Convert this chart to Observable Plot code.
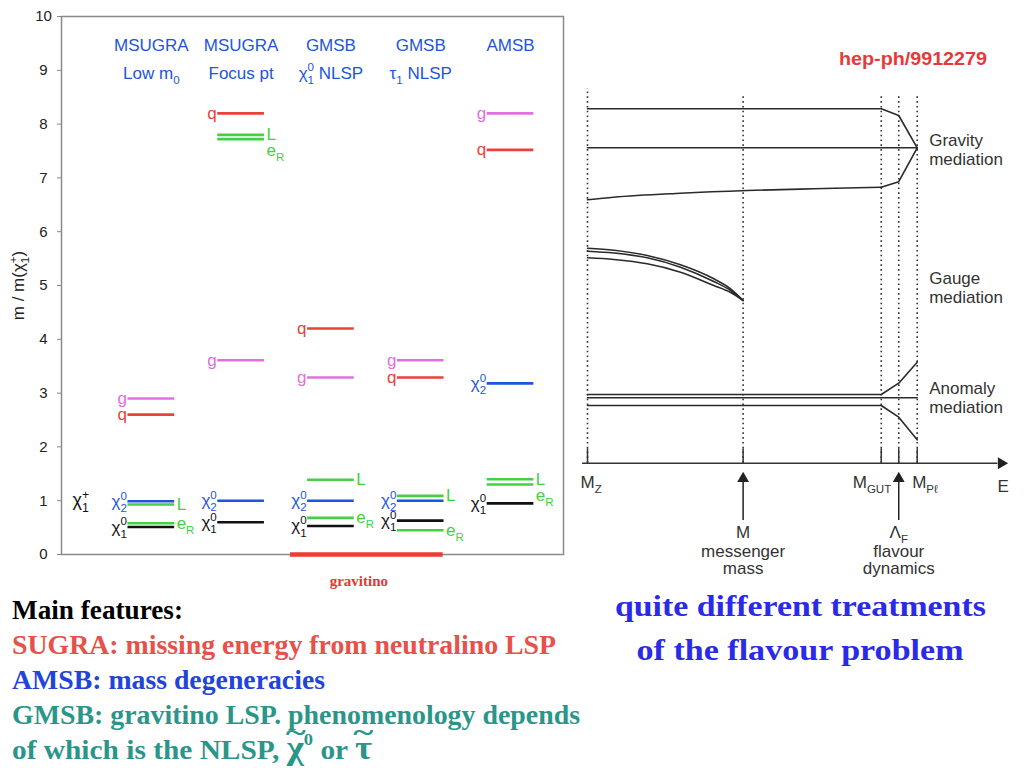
<!DOCTYPE html>
<html><head><meta charset="utf-8">
<script src="https://cdn.jsdelivr.net/npm/d3@7"></script>
<script src="https://cdn.jsdelivr.net/npm/@observablehq/plot@0.6"></script>
<style>
body{margin:0;background:#fff;}
#slide{position:relative;width:1024px;height:768px;overflow:hidden;background:#fff;font-family:"Liberation Sans",Arial,Helvetica,sans-serif;}
.serif{font-family:"Liberation Serif","Times New Roman",serif;font-weight:bold;white-space:nowrap;}
.fit{display:inline-block;white-space:nowrap;}
.row{height:35px;line-height:35px;}
.tl{position:relative;display:inline-block;font-size:34px;line-height:20px;}
.tl::before{content:"~";position:absolute;left:0;right:0;text-align:center;top:-0.58em;font-size:0.8em;transform:scaleX(1.3);}
.sp{position:relative;top:-14px;font-size:17px;line-height:0;}
</style></head><body>
<div id="slide">
  <div id="left" style="position:absolute;left:0;top:0"></div>
  <div id="right" style="position:absolute;left:570px;top:0"></div>
  <div style="position:absolute;left:839px;top:48px;color:#e8393a;font-weight:bold;font-size:19px;line-height:22px"><span class="fit" data-w="148">hep-ph/9912279</span></div>
  <div class="serif" style="position:absolute;left:560px;width:480px;top:584px;text-align:center;color:#2a2ae8;font-size:30px;line-height:44px">
    <div><span class="fit" data-w="371" data-origin="center">quite different treatments</span></div>
    <div><span class="fit" data-w="327" data-origin="center">of the flavour problem</span></div>
  </div>
  <div class="serif" style="position:absolute;left:12px;top:593px;font-size:27px">
    <div class="row" style="color:#000"><span class="fit" data-w="171">Main features:</span></div>
    <div class="row" style="color:#e8504a"><span class="fit" data-w="544">SUGRA: missing energy from neutralino LSP</span></div>
    <div class="row" style="color:#2244d8"><span class="fit" data-w="313">AMSB: mass degeneracies</span></div>
    <div class="row" style="color:#2a968a"><span class="fit" data-w="568">GMSB: gravitino LSP. phenomenology depends</span></div>
    <div class="row" style="color:#2a968a"><span class="fit" data-w="360">of which is the NLSP, <span class="tl">χ</span><span class="sp">0</span> or <span class="tl">τ</span></span></div>
  </div>
</div>
<script>
// ---------------- Left panel data: sparticle mass ratios m / m(chi1+) ----------------
const modelTitles = ["MSUGRA", "MSUGRA", "GMSB", "GMSB", "AMSB"];
const modelSubtitles = ["Low m_{0}", "Focus pt", "χ_{1}^{0} NLSP", "τ_{1} NLSP", ""];
const particleKeys = ["q", "g", "L", "eR", "chi2", "chi1"];
const particleLabels = ["q", "g", "L", "e_{R}", "χ_{2}^{0}", "χ_{1}^{0}"];
const particleColors = ["#e8423a", "#e070e0", "#44cf44", "#44cf44", "#1d55dc", "#111111"];
const particleSides = ["left", "left", "right", "right", "left", "left"];
const massQ    = [2.60, 8.20, 4.20, 3.29, 7.52];
const massG    = [2.90, 3.61, 3.29, 3.61, 8.20];
const massL    = [0.93, 7.80, 1.39, 1.09, 1.40];
const massER   = [0.58, 7.72, 0.68, 0.45, 1.30];
const massChi2 = [0.99, 1.00, 1.00, 1.00, 3.18];
const massChi1 = [0.51, 0.60, 0.53, 0.63, 0.95];
const charginoLabel = "χ_{1}^{+}";
const gravitinoSpan = [2.55, 4.25];   // spans the two GMSB columns at m = 0
const yTicks = [0, 1, 2, 3, 4, 5, 6, 7, 8, 9, 10];

// ---------------- Right panel data: schematic running of masses vs energy ----------------
const scaleNames   = ["MZ", "M", "MGUT", "ΛF", "MPl"];
const scaleTexts   = ["M_{Z}", "M", "M_{GUT}", "Λ_{F}", "M_{Pℓ}"];
const scalePos     = [0, 4.72, 8.91, 9.44, 10];
const scaleDotTop  = [37.47, 36.97, 36.97, 36.97, 36.97];
const scaleKinds   = ["axis", "arrow", "axis", "arrow", "axis"];
const scaleCaption = [[], ["messenger", "mass"], [], ["flavour", "dynamics"], []];
const mediationNames  = ["Gravity\nmediation", "Gauge\nmediation", "Anomaly\nmediation"];
const mediationLevels = [31.4, 17.6, 6.6];
const curveNames  = ["gravTop", "gravMid", "gravLow", "gravLowKink", "gauge1", "gauge2", "gauge3", "anomTop", "anomMid", "anomBot"];
const curveSmooth = [false, false, true, false, true, true, true, false, false, false];
const curveX = [
  [0, 8.91, 9.44, 10],
  [0, 10],
  [0, 0.79, 2.82, 4.84, 6.85, 8.91],
  [8.91, 9.44, 10],
  [0, 0.80, 1.81, 2.82, 3.83, 4.34, 4.72],
  [0, 0.80, 1.81, 2.82, 3.83, 4.34, 4.72],
  [0, 0.80, 1.81, 2.82, 3.83, 4.34, 4.72],
  [0, 8.91, 9.44, 10],
  [0, 10],
  [0, 8.91, 9.44, 10]
];
const curveY = [
  [35.44, 35.44, 34.77, 31.54],
  [31.54, 31.54],
  [26.34, 26.60, 27.00, 27.27, 27.44, 27.60],
  [27.60, 28.15, 31.54],
  [21.50, 21.30, 20.77, 19.84, 18.44, 17.44, 16.27],
  [21.20, 21.02, 20.54, 19.60, 18.17, 17.27, 16.27],
  [20.54, 20.37, 19.94, 19.10, 17.77, 17.07, 16.27],
  [6.87, 6.87, 8.00, 10.10],
  [6.54, 6.54],
  [5.77, 5.77, 4.60, 2.34]
];
const energyAxisExtent = [-0.15, 12.55];

// ---------------- build tables ----------------
const massTable = [massQ, massG, massL, massER, massChi2, massChi1];
const spectrum = [];
modelTitles.forEach((m, i) => {
  particleKeys.forEach((p, j) => {
    spectrum.push({col: i + 1, key: p, mass: massTable[j][i], label: particleLabels[j],
      color: particleColors[j], side: particleSides[j],
      crowded: p === "eR" && Math.abs(massL[i] - massER[i]) < 0.15});
  });
});
const HALF = 0.26;
const header = modelTitles.map((t, i) => ({col: i + 1, t, s: modelSubtitles[i]}));

const energyScales = scaleNames.map((n, i) => ({name: n, text: scaleTexts[i], pos: scalePos[i], top: scaleDotTop[i], kind: scaleKinds[i], caption: scaleCaption[i]}));
const curvePts = [];
curveNames.forEach((n, i) => curveX[i].forEach((x, k) => curvePts.push({name: n, smooth: curveSmooth[i], x, y: curveY[i][k]})));
const mediations = mediationNames.map((t, i) => ({t, y: mediationLevels[i]}));

// ---------------- rich text (sub/superscripts) ----------------
const SVGNS = "http://www.w3.org/2000/svg";
function richify(root) {
  root.querySelectorAll("text").forEach(t => {
    const multi = !!t.querySelector("tspan");
    const nodes = multi ? [...t.querySelectorAll("tspan")] : [t];
    nodes.forEach(node => {
      const s = node.textContent;
      if (!/[_^]\{/.test(s)) return;
      const fs = parseFloat(getComputedStyle(node).fontSize) || 12;
      const parts = []; const re = /([_^])\{([^}]*)\}/g; let last = 0, m;
      while ((m = re.exec(s))) {
        if (m.index > last) parts.push({t: "n", s: s.slice(last, m.index)});
        parts.push({t: m[1] === "_" ? "sub" : "sup", s: m[2]});
        last = re.lastIndex;
      }
      if (last < s.length) parts.push({t: "n", s: s.slice(last)});
      node.textContent = "";
      let cur = 0, prev = null, prevW = 0;
      parts.forEach(p => {
        const ts = document.createElementNS(SVGNS, "tspan");
        const target = p.t === "sub" ? 0.3 * fs : p.t === "sup" ? -0.42 * fs : 0;
        if (target - cur) ts.setAttribute("dy", target - cur);
        cur = target;
        if (p.t !== "n") ts.setAttribute("font-size", 0.68 * fs);
        if (p.t === "sup" && prev && prev.t === "sub") ts.setAttribute("dx", -prevW);
        ts.textContent = p.s;
        node.appendChild(ts);
        if (p.t === "sub") prevW = ts.getComputedTextLength();
        prev = p;
      });
    });
  });
}

// ---------------- left plot ----------------
const font = "Liberation Sans, Arial, Helvetica, sans-serif";
const left = Plot.plot({
  width: 575, height: 600,
  marginLeft: 61, marginRight: 12, marginTop: 16, marginBottom: 46,
  x: {domain: [0, 5.59], axis: null},
  y: {domain: [0, 10], axis: null},
  style: {fontFamily: font, fontSize: "15px", color: "#222", background: "transparent", overflow: "visible"},
  marks: [
    Plot.frame({stroke: "#8a8a8a", strokeWidth: 1.5}),
    Plot.axisY({ticks: yTicks, label: null, tickSize: 4, tickPadding: 14, textAnchor: "middle", stroke: "#8a8a8a", fill: "#222", fontSize: 15, tickFormat: d => String(d)}),
    Plot.text(["m / m(χ_{1}^{+})"], {text: d => d, frameAnchor: "left", textAnchor: "middle", dx: -43, rotate: -90, fontSize: 17, fill: "#222"}),
    Plot.text(header, {x: "col", text: "t", frameAnchor: "top", dy: 22, fill: "#1d55dc", fontSize: 17}),
    Plot.text(header.filter(d => d.s), {x: "col", text: "s", frameAnchor: "top", dy: 50, fill: "#1d55dc", fontSize: 17}),
    Plot.ruleY(spectrum, {y: "mass", x1: d => d.col - HALF, x2: d => d.col + HALF, stroke: "color", strokeWidth: 2.6}),
    Plot.text(spectrum.filter(d => d.side === "left"), {x: d => d.col - HALF, y: "mass", text: "label", fill: "color", textAnchor: "end", dx: -1, fontSize: 17}),
    Plot.text(spectrum.filter(d => d.side === "right" && !d.crowded), {x: d => d.col + HALF, y: "mass", text: "label", fill: "color", textAnchor: "start", dx: 2, fontSize: 17}),
    Plot.text(spectrum.filter(d => d.side === "right" && d.crowded), {x: d => d.col + HALF, y: "mass", text: "label", fill: "color", textAnchor: "start", dx: 2, dy: 11, fontSize: 17}),
    Plot.text([charginoLabel], {text: d => d, x: 0, y: 1, dx: 11, textAnchor: "start", fill: "#111", fontSize: 18}),
    Plot.ruleY([0], {x1: gravitinoSpan[0], x2: gravitinoSpan[1], stroke: "#ee3b33", strokeWidth: 4.5}),
    Plot.text(["gravitino"], {text: d => d, x: (gravitinoSpan[0] + gravitinoSpan[1]) / 2, y: 0, dx: -8, dy: 27, fill: "#e03a30", fontSize: 15, fontWeight: "bold", fontFamily: "Liberation Serif, Times New Roman, serif"})
  ]
});
document.getElementById("left").append(left);
richify(left);

// ---------------- right plot ----------------
const ink = "#2a2a2a";
const arrows = energyScales.filter(d => d.kind === "arrow");
const right = Plot.plot({
  width: 454, height: 610,
  marginLeft: 17, marginRight: 107.3, marginTop: 62.7, marginBottom: 147.3,
  x: {domain: [0, 10], axis: null},
  y: {domain: [0, 40], axis: null},
  style: {fontFamily: font, fontSize: "17px", color: ink, background: "transparent", overflow: "visible"},
  marks: [
    Plot.ruleX(energyScales, {x: "pos", y1: 0, y2: "top", stroke: "#333", strokeWidth: 1.6, strokeDasharray: "1.6,3.2"}),
    Plot.ruleX(energyScales, {x: "pos", y1: 0, y2: 1.45, stroke: "#333", strokeWidth: 1.5}),
    Plot.ruleY([0], {x1: energyAxisExtent[0], x2: energyAxisExtent[1] - 0.1, stroke: "#333", strokeWidth: 1.5}),
    Plot.dot([0], {x: energyAxisExtent[1], y: 0, symbol: "triangle", rotate: 90, r: 4.4, fill: "#222", stroke: "none"}),
    Plot.line(curvePts.filter(d => d.smooth), {x: "x", y: "y", z: "name", curve: "monotone-x", stroke: ink, strokeWidth: 1.6}),
    Plot.line(curvePts.filter(d => !d.smooth), {x: "x", y: "y", z: "name", curve: "linear", stroke: ink, strokeWidth: 1.6}),
    Plot.text(mediations, {x: 10, y: "y", text: "t", dx: 12, textAnchor: "start", lineHeight: 1.12, fill: "#333", fontSize: 17}),
    Plot.text(energyScales.filter(d => d.name === "MZ"), {x: "pos", y: -1.93, text: "text", textAnchor: "start", dx: -7, fill: "#333"}),
    Plot.text(energyScales.filter(d => d.name === "MGUT"), {x: "pos", y: -1.93, text: "text", textAnchor: "end", dx: 10, fill: "#333"}),
    Plot.text(energyScales.filter(d => d.name === "MPl"), {x: "pos", y: -1.93, text: "text", textAnchor: "start", dx: -5, fill: "#333"}),
    Plot.text(["E"], {text: d => d, x: energyAxisExtent[1], y: -2.33, dx: 2, fill: "#333"}),
    Plot.ruleX(arrows, {x: "pos", y1: -5.73, y2: -1.5, stroke: "#222", strokeWidth: 1.5}),
    Plot.dot(arrows, {x: "pos", y: -1.55, symbol: "triangle", r: 4.4, fill: "#222", stroke: "none"}),
    Plot.text(arrows, {x: "pos", y: -6.9, text: "text", fill: "#333"}),
    Plot.text(arrows, {x: "pos", y: -8.83, text: d => d.caption[0], fill: "#333"}),
    Plot.text(arrows, {x: "pos", y: -10.55, text: d => d.caption[1], fill: "#333"})
  ]
});
document.getElementById("right").append(right);
richify(right);

// ---------------- fit HTML text widths ----------------
document.querySelectorAll(".fit").forEach(el => {
  el.style.transformOrigin = (el.dataset.origin || "left") + " center";
  const w = el.getBoundingClientRect().width;
  if (w > 0) el.style.transform = `scaleX(${(+el.dataset.w / w).toFixed(4)})`;
});
</script>
</body></html>
